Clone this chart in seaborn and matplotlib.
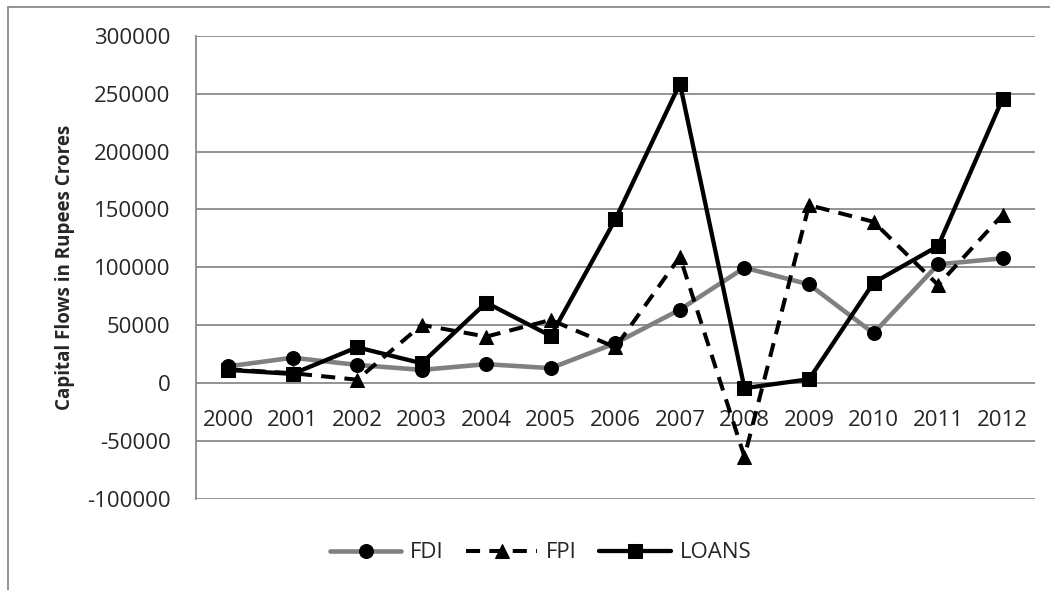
import matplotlib
matplotlib.use("Agg")
import matplotlib.pyplot as plt
import seaborn as sns
import pandas as pd
from matplotlib.lines import Line2D

# Datos
years = ["2000", "2001", "2002", "2003", "2004", "2005", "2006",
         "2007", "2008", "2009", "2010", "2011", "2012"]
fdi = [14500, 22000, 15800, 11500, 16400, 13000, 34500,
       63500, 99700, 85300, 43100, 102600, 107800]
fpi = [12000, 8600, 3000, 50300, 40200, 54600, 31000,
       109100, -63500, 153700, 139300, 84700, 145500]
loans = [11500, 8000, 31000, 17200, 69500, 40800, 141400,
         258600, -4300, 3400, 86800, 118400, 245700]

df = pd.DataFrame({"year": years, "FDI": fdi, "FPI": fpi, "LOANS": loans})

sns.set_style("white")
plt.rcParams["font.family"] = ["Open Sans", "DejaVu Sans"]
plt.rcParams["axes.unicode_minus"] = False

fig = plt.figure(figsize=(10.5, 5.9), dpi=100)
ax = fig.add_axes([0.1864, 0.1542, 0.7993, 0.7853])

# Estilos por serie
estilos = {
    "FDI": dict(color="#808080", lw=3.3, ls="-", marker="o", ms=10),
    "FPI": dict(color="black", lw=2.9, ls=(0, (3.5, 2.3)), marker="^", ms=10),
    "LOANS": dict(color="black", lw=3.1, ls="-", marker="s", ms=9.5),
}

for serie, st in estilos.items():
    sns.lineplot(data=df, x="year", y=serie, ax=ax, color=st["color"],
                 marker=st["marker"], markersize=st["ms"],
                 markerfacecolor="black", markeredgecolor="black",
                 label=serie, sort=False, zorder=3)
    linea = ax.lines[-1]
    linea.set_linewidth(st["lw"])
    linea.set_linestyle(st["ls"])

ax.set_xlim(-0.5, len(years) - 0.5)
ax.set_ylim(-100000, 300000)
ax.set_yticks(range(-100000, 300001, 50000))
ax.yaxis.grid(True, color="#8a8a8a", linewidth=1.3)
ax.set_axisbelow(True)

# Eliminar los spines
ax.spines["top"].set_visible(False)
ax.spines["right"].set_visible(False)
ax.spines["bottom"].set_position(("data", 0))
ax.spines["bottom"].set_visible(False)
ax.spines["left"].set_color("#8a8a8a")
ax.spines["left"].set_linewidth(1.3)

ax.tick_params(axis="x", length=0, pad=19, labelsize=16)
ax.tick_params(axis="y", length=0, pad=18, labelsize=16)

ax.set_xlabel("")
ax.set_ylabel("Capital Flows in Rupees Crores", fontsize=13.5, fontweight="bold",
              labelpad=9)

handles, labels = ax.get_legend_handles_labels()
for h, st in zip(handles, estilos.values()):
    h.set_linewidth(st["lw"])
    h.set_linestyle(st["ls"])
ax.legend_.remove()
fig.legend(handles, labels, loc="center", bbox_to_anchor=(0.515, 0.063), ncol=3,
           frameon=False, fontsize=16, handlelength=3.2, columnspacing=1.0,
           handletextpad=0.4)

# Borde exterior del area del grafico
fig.add_artist(Line2D([0.0076, 0.0076], [0.0, 0.988], color="#8a8a8a", lw=1.3,
                      transform=fig.transFigure))
fig.add_artist(Line2D([0.0076, 1.0], [0.988, 0.988], color="#8a8a8a", lw=1.3,
                      transform=fig.transFigure))

fig.savefig("out.png", dpi=100)
